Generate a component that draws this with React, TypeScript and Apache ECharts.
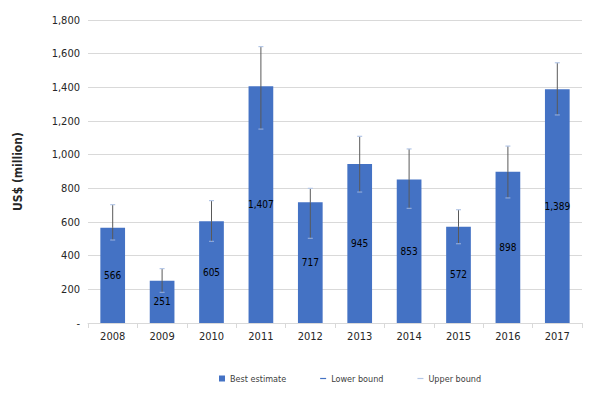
import React, { useEffect, useRef } from "react";
import * as echarts from "echarts";

const years = ["2008", "2009", "2010", "2011", "2012", "2013", "2014", "2015", "2016", "2017"];
const bestEstimate = [566, 251, 605, 1407, 717, 945, 853, 572, 898, 1389];
const lowerBound = [493, 182, 485, 1152, 503, 778, 681, 471, 743, 1236];
const upperBound = [703, 323, 727, 1642, 800, 1109, 1034, 673, 1051, 1546];

const FONT = '"DejaVu Sans Condensed", "DejaVu Sans", sans-serif';

function errorRenderer(capColor: string) {
  return (params: any, api: any) => {
    const i = api.value(0);
    const mid = api.coord([i, api.value(1)]);
    const end = api.coord([i, api.value(2)]);
    const x = mid[0];
    return {
      type: "group",
      children: [
        {
          type: "line",
          shape: { x1: x, y1: mid[1], x2: x, y2: end[1] },
          style: { stroke: "#595959", lineWidth: 1 },
        },
        {
          type: "line",
          shape: { x1: x - 2.5, y1: end[1], x2: x + 2.5, y2: end[1] },
          style: { stroke: capColor, lineWidth: 1.2 },
        },
      ],
    };
  };
}

export default function App() {
  const ref = useRef<HTMLDivElement>(null);
  useEffect(() => {
    document.body.style.margin = "0";
    if (!ref.current) return;
    const chart = echarts.init(ref.current, undefined, { renderer: "svg" });
    chart.setOption({
      animation: false,
      textStyle: { fontFamily: FONT },
      grid: { left: 88, right: 18, top: 20, bottom: 72, containLabel: false, outerBoundsMode: "none" },
      legend: {
        top: 369,
        left: 214,
        itemGap: 34,
        itemWidth: 6,
        itemHeight: 6,
        textStyle: { fontSize: 9, color: "#404040", fontFamily: FONT },
        data: [
          { name: "Best estimate", icon: "rect", itemStyle: { color: "#4472C4" } },
          { name: "Lower bound", icon: "path://M0,2H10V4H0Z", itemStyle: { color: "#4472C4" } },
          { name: "Upper bound", icon: "path://M0,2H10V4H0Z", itemStyle: { color: "#b4c7e7" } },
        ],
      },
      xAxis: {
        type: "category",
        data: years,
        axisLine: { lineStyle: { color: "#d9d9d9" } },
        axisTick: { show: true, length: 5, lineStyle: { color: "#d9d9d9" } },
        axisLabel: { color: "#262626", fontSize: 11, margin: 8, fontFamily: FONT },
      },
      yAxis: {
        type: "value",
        min: 0,
        max: 1800,
        interval: 200,
        name: "US$ (million)",
        nameLocation: "middle",
        nameGap: 64,
        nameTextStyle: { fontSize: 12, fontWeight: "bold", color: "#262626", fontFamily: FONT },
        axisLine: { show: false },
        axisTick: { show: false },
        splitLine: { lineStyle: { color: "#d9d9d9" } },
        axisLabel: {
          color: "#262626",
          fontSize: 11,
          margin: 8,
          fontFamily: FONT,
          formatter: (v: number) => (v === 0 ? "-" : v.toLocaleString("en-US")),
        },
      },
      series: [
        {
          name: "Best estimate",
          type: "bar",
          data: bestEstimate,
          barWidth: "50%",
          itemStyle: { color: "#4472C4" },
          label: {
            show: true,
            position: "inside",
            color: "#000",
            fontSize: 10,
            fontFamily: FONT,
            formatter: (p: any) => Number(p.value).toLocaleString("en-US"),
          },
          z: 2,
        },
        {
          name: "Lower bound",
          type: "custom",
          color: "#4472C4",
          renderItem: errorRenderer("#8ea9db"),
          data: years.map((_, i) => [i, bestEstimate[i], lowerBound[i]]),
          encode: { x: 0, y: [1, 2] },
          z: 3,
        },
        {
          name: "Upper bound",
          type: "custom",
          color: "#b4c7e7",
          renderItem: errorRenderer("#b4c7e7"),
          data: years.map((_, i) => [i, bestEstimate[i], upperBound[i]]),
          encode: { x: 0, y: [1, 2] },
          z: 3,
        },
      ],
    });
    return () => chart.dispose();
  }, []);
  return <div ref={ref} style={{ width: 600, height: 395 }} />;
}
